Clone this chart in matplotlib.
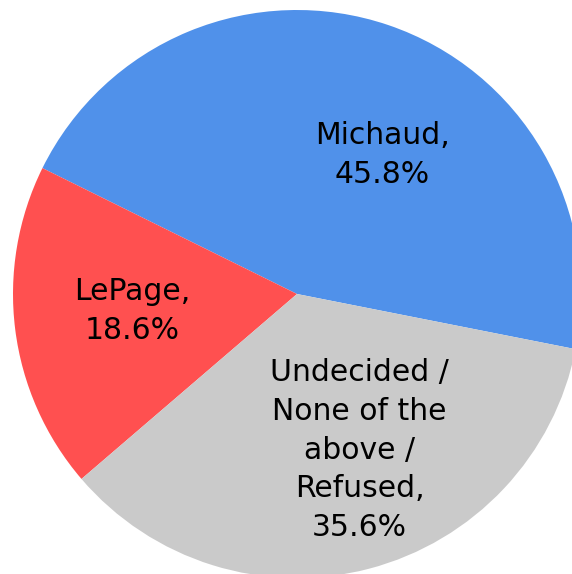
import numpy as np
import matplotlib.pyplot as plt

# 후보별 지지율
candidates = ["Michaud", "LePage", "Undecided /\nNone of the\nabove /\nRefused"]
shares = [45.8, 18.6, 35.6]
colors = ["#5091EA", "#FF5050", "#CACACA"]

fig = plt.figure(figsize=(5.72, 5.74), dpi=100)
ax = fig.add_axes([0, 0, 1, 1])

labels = ["{},\n{}%".format(c, s) for c, s in zip(candidates, shares)]
wedges, texts = ax.pie(shares, labels=labels, colors=colors, startangle=-11.2,
                       counterclock=True, radius=1.0, labeldistance=0.59,
                       wedgeprops=dict(linewidth=0),
                       textprops=dict(fontsize=21.5, family="DejaVu Sans",
                                      ha="center", va="center",
                                      linespacing=1.42))

# 라벨 위치 조정
texts[0].set_position((0.3, 0.49))
texts[1].set_position((-0.58, -0.06))
texts[2].set_position((0.22, -0.55))
for t in texts:
    t.set_horizontalalignment("center")

r_px = 284.0
ax.set_xlim(-297 / r_px, (572 - 297) / r_px)
ax.set_ylim(-(574 - 294) / r_px, 294 / r_px)
ax.set_aspect("auto")
ax.axis("off")

fig.savefig("out.png", dpi=100)
